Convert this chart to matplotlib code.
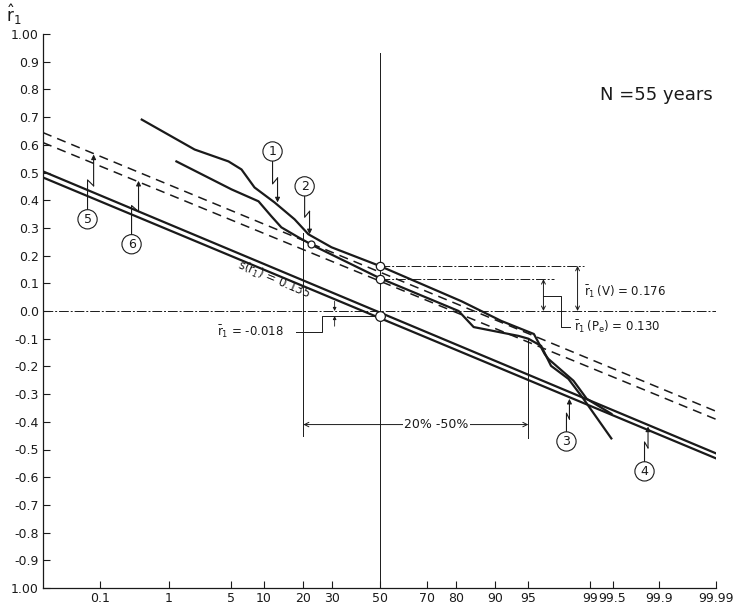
import math
import numpy as np
import matplotlib
matplotlib.use('Agg')
import matplotlib.pyplot as plt

plt.rc('font', size=9)

# axis ticks (probability in %, normal probability paper)
prob_ticks = [0.1, 1, 5, 10, 20, 30, 50, 70, 80, 90, 95, 99, 99.5, 99.9, 99.99]
prob_labels = ['0.1', '1', '5', '10', '20', '30', '50', '70', '80', '90', '95',
               '99', '99.5', '99.9', '99.99']
r_ticks = [round(-1.0 + 0.1 * i, 1) for i in range(21)]
r_labels = ['1.00', '-0.9', '-0.8', '-0.7', '-0.6', '-0.5', '-0.4', '-0.3', '-0.2', '-0.1',
            '0.0', '0.1', '0.2', '0.3', '0.4', '0.5', '0.6', '0.7', '0.8', '0.9', '1.00']

# empirical curves 1 and 2
curve1_p = [0.43, 2.05, 4.76, 6.36, 8.36, 12.3, 17.4, 21.6, 29.8, 50, 81.8, 91.1,
            95.6, 96.6, 96.9, 98.4, 98.9, 99.48]
curve1_r = [0.691, 0.583, 0.540, 0.511, 0.446, 0.392, 0.331, 0.277, 0.230, 0.163,
            0.035, -0.036, -0.083, -0.155, -0.173, -0.252, -0.317, -0.371]
curve2_p = [1.24, 5.1, 9.06, 11.6, 13.9, 18.5, 23.6, 50, 80.9, 85.1, 93.8, 95.0,
            96.3, 97.1, 98.16, 98.79, 99.48]
curve2_r = [0.540, 0.439, 0.396, 0.342, 0.302, 0.266, 0.234, 0.119, 0.0, -0.058,
            -0.09, -0.10, -0.126, -0.198, -0.245, -0.317, -0.460]

# straight (normal) lines 3/4 solid and 5/6 dashed, end points
line_p = [0.01, 99.99]
line3_r = [0.482, -0.532]
line4_r = [0.504, -0.514]
line5_r = [0.644, -0.362]
line6_r = [0.608, -0.391]

# statistics
mean_r1 = -0.018
mean_v = 0.163
mean_pe = 0.115

ink = '#1a1a1a'


def _cdf(z):
    z = np.asarray(z, dtype=float)
    return 0.5 * (1.0 + np.vectorize(math.erf, otypes=[float])(z / math.sqrt(2.0)))


def forward(p):
    q = np.clip(np.asarray(p, dtype=float) / 100.0, 1e-9, 1 - 1e-9)
    lo = np.full(q.shape, -8.0)
    hi = np.full(q.shape, 8.0)
    for _ in range(60):
        mid = 0.5 * (lo + hi)
        below = _cdf(mid) < q
        lo = np.where(below, mid, lo)
        hi = np.where(below, hi, mid)
    return 0.5 * (lo + hi)


def inverse(z):
    return _cdf(z) * 100.0


fig = plt.figure(figsize=(7.34, 6.06), dpi=100)
ax = fig.add_axes([43 / 734, 18 / 606, 673 / 734, 554 / 606])
ax.set_xscale('function', functions=(forward, inverse))
ax.set_xlim(0.01, 99.99)
ax.set_ylim(-1.0, 1.0)

ax.set_xticks(prob_ticks)
ax.set_xticklabels(prob_labels)
ax.xaxis.set_minor_locator(matplotlib.ticker.NullLocator())
ax.set_yticks(r_ticks)
ax.set_yticklabels(r_labels)
ax.tick_params(direction='in', length=5, width=0.8, colors=ink, pad=3)
for s in ['top', 'right']:
    ax.spines[s].set_visible(False)
for s in ['left', 'bottom']:
    ax.spines[s].set_color(ink)
    ax.spines[s].set_linewidth(0.9)

# reference lines
ax.plot([0.01, 99.99], [0, 0], color=ink, lw=0.7, ls=(0, (10, 2, 2, 2)))
ax.plot([50, 50], [0.93, -1.0], color=ink, lw=0.7)
ax.plot([20, 20], [0.28, -0.45], color=ink, lw=0.7)
ax.plot([95, 95], [-0.10, -0.46], color=ink, lw=0.7)

# straight lines
ax.plot(line_p, line3_r, color=ink, lw=1.6)
ax.plot(line_p, line4_r, color=ink, lw=1.6)
ax.plot(line_p, line5_r, color=ink, lw=1.1, ls=(0, (6, 4)))
ax.plot(line_p, line6_r, color=ink, lw=1.1, ls=(0, (6, 4)))

# empirical curves
ax.plot(curve1_p, curve1_r, color=ink, lw=1.6)
ax.plot(curve2_p, curve2_r, color=ink, lw=1.6)

# mean markers at 50 %
ax.plot([50, 50], [mean_v, mean_pe], ls='none', marker='o', ms=6,
        mfc='white', mec=ink, mew=0.9, zorder=5)
ax.plot([50], [mean_r1], ls='none', marker='o', ms=7, mfc='white', mec=ink,
        mew=0.9, zorder=5)
ax.plot([22.6], [0.241], ls='none', marker='o', ms=5, mfc='white', mec=ink,
        mew=0.9, zorder=5)

# dimension lines for means
ax.plot([50, 98.8], [mean_v, mean_v], color=ink, lw=0.7, ls=(0, (10, 2, 2, 2)))
ax.plot([50, 97.3], [mean_pe, mean_pe], color=ink, lw=0.7, ls=(0, (10, 2, 2, 2)))
arr = dict(arrowstyle='<->', lw=0.7, color=ink, mutation_scale=7,
           shrinkA=0, shrinkB=0)
ax.annotate('', xy=(98.57, mean_v), xytext=(98.57, 0.0), arrowprops=arr)
ax.annotate('', xy=(96.5, mean_pe), xytext=(96.5, 0.0), arrowprops=arr)
ax.plot([96.5, 97.75, 97.75, 98.25], [0.054, 0.054, -0.058, -0.058], color=ink, lw=0.7)
ax.text(98.8, 0.068, r'$\bar{\mathrm{r}}_1\,$(V) = 0.176', ha='left', va='center',
        fontsize=8.5, color=ink)
ax.text(98.4, -0.058, r'$\bar{\mathrm{r}}_1\,(\mathrm{P_e})$ = 0.130', ha='left',
        va='center', fontsize=8.5, color=ink)

# mean of r1
ax.plot([17.9, 26.1, 26.1, 50], [-0.0755, -0.0755, mean_r1, mean_r1], color=ink, lw=0.7)
small = dict(arrowstyle='-|>', lw=0.6, color=ink, mutation_scale=5,
             shrinkA=0, shrinkB=0)
ax.annotate('', xy=(31, 0.0), xytext=(31, 0.035), arrowprops=small)
ax.annotate('', xy=(31, mean_r1), xytext=(31, -0.055), arrowprops=small)
ax.text(14.5, -0.075, r'$\bar{\mathrm{r}}_1$ = -0.018', ha='right', va='center',
        fontsize=8.5, color=ink)

ax.text(12.1, 0.112, r's(r$_1$) = 0.135', ha='center', va='center', rotation=-23,
        fontsize=8.5, color=ink)

# 20 % - 50 % range
ax.annotate('', xy=(20, -0.41), xytext=(95, -0.41),
            arrowprops=dict(arrowstyle='<->', lw=0.7, color=ink, mutation_scale=8,
                            shrinkA=0, shrinkB=0))
ax.text(73.6, -0.41, '20% -50%', ha='center', va='center', fontsize=9, color=ink,
        bbox=dict(fc='white', ec='none', pad=1))

ax.text(99.89, 0.78, 'N =55 years', ha='center', va='center', fontsize=13, color=ink)

# y axis name
ax.text(-0.043, 1.035, r'$\hat{\mathrm{r}}_1$', transform=ax.transAxes, ha='center',
        va='center', fontsize=12, color=ink)


def leader(lab, lp, lr, tp, tr):
    L = ax.transData.transform((lp, lr))
    T = ax.transData.transform((tp, tr))
    sg = 1 if T[1] > L[1] else -1
    S = (L[0], L[1] + sg * 8)
    ym = (S[1] + T[1]) / 2
    A = (L[0], ym + sg * 3)
    B = (T[0], ym - sg * 3)
    pts = ax.transData.inverted().transform([S, A, B])
    ax.plot(pts[:, 0], pts[:, 1], color=ink, lw=0.8)
    ax.annotate('', xy=(tp, tr), xytext=tuple(pts[2]),
                arrowprops=dict(arrowstyle='-|>', lw=0.8, color=ink, mutation_scale=7,
                                shrinkA=0, shrinkB=0))
    ax.text(lp, lr, lab, ha='center', va='center', fontsize=9, color=ink, zorder=6,
            bbox=dict(boxstyle='circle,pad=0.25', fc='white', ec=ink, lw=0.8))


leader('1', 11.86, 0.576, 12.99, 0.392)
leader('2', 20.4, 0.45, 21.97, 0.277)
leader('3', 98.06, -0.471, 98.21, -0.317)
leader('4', 99.83, -0.579, 99.85, -0.417)
leader('5', 0.0626, 0.331, 0.079, 0.565)
leader('6', 0.307, 0.241, 0.387, 0.47)

fig.savefig('out.png', dpi=100)
